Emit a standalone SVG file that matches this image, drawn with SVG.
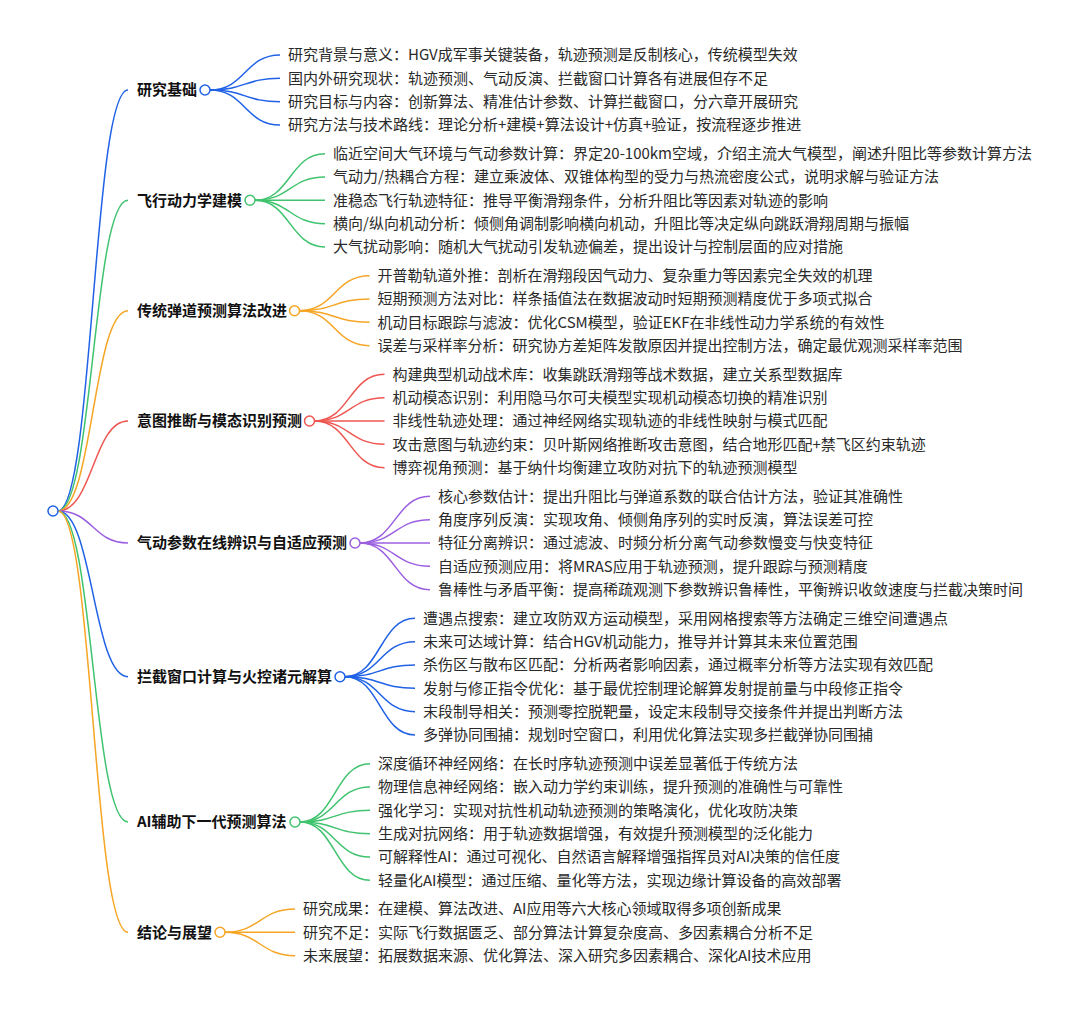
<svg xmlns="http://www.w3.org/2000/svg" width="1080" height="1011" viewBox="0 0 1080 1011">
<style>
.bg{fill:#ffffff}
path{fill:none;stroke-width:1.5}
.c1{stroke:#2062e6}.c2{stroke:#40c36e}.c3{stroke:#f6a524}.c4{stroke:#ee5651}.c5{stroke:#9b5fe0}
circle{fill:#ffffff;stroke-width:1.5}
text{font-family:"Noto Sans CJK SC","Noto Sans",sans-serif;font-size:15px}
.cat{font-weight:bold;fill:#111111}
.leaf{fill:#2a2a2a}
</style>
<rect class="bg" x="0" y="0" width="1080" height="1011"/>
<g id="connectors">
<path class="c1" d="M58,511 C93,511 93,90 128,90"/>
<path class="c2" d="M58,511 C93,511 93,200.3 128,200.3"/>
<path class="c3" d="M58,511 C93,511 93,310.7 128,310.7"/>
<path class="c4" d="M58,511 C93,511 93,421 128,421"/>
<path class="c5" d="M58,511 C93,511 93,543 128,543"/>
<path class="c1" d="M58,511 C93,511 93,676.7 128,676.7"/>
<path class="c2" d="M58,511 C93,511 93,822 128,822"/>
<path class="c3" d="M58,511 C93,511 93,932.3 128,932.3"/>
<path class="c1" d="M210,90 C245,90 245,55 280,55"/>
<path class="c1" d="M210,90 C245,90 245,78.3 280,78.3"/>
<path class="c1" d="M210,90 C245,90 245,101.7 280,101.7"/>
<path class="c1" d="M210,90 C245,90 245,125 280,125"/>
<path class="c2" d="M255,200.3 C290,200.3 290,153.7 325,153.7"/>
<path class="c2" d="M255,200.3 C290,200.3 290,177 325,177"/>
<path class="c2" d="M255,200.3 C290,200.3 290,200.3 325,200.3"/>
<path class="c2" d="M255,200.3 C290,200.3 290,223.7 325,223.7"/>
<path class="c2" d="M255,200.3 C290,200.3 290,247 325,247"/>
<path class="c3" d="M299.5,310.7 C334.5,310.7 334.5,275.7 369.5,275.7"/>
<path class="c3" d="M299.5,310.7 C334.5,310.7 334.5,299 369.5,299"/>
<path class="c3" d="M299.5,310.7 C334.5,310.7 334.5,322.3 369.5,322.3"/>
<path class="c3" d="M299.5,310.7 C334.5,310.7 334.5,345.7 369.5,345.7"/>
<path class="c4" d="M314.5,421 C349.5,421 349.5,374.3 384.5,374.3"/>
<path class="c4" d="M314.5,421 C349.5,421 349.5,397.7 384.5,397.7"/>
<path class="c4" d="M314.5,421 C349.5,421 349.5,421 384.5,421"/>
<path class="c4" d="M314.5,421 C349.5,421 349.5,444.3 384.5,444.3"/>
<path class="c4" d="M314.5,421 C349.5,421 349.5,467.7 384.5,467.7"/>
<path class="c5" d="M360,543 C395,543 395,496.3 430,496.3"/>
<path class="c5" d="M360,543 C395,543 395,519.7 430,519.7"/>
<path class="c5" d="M360,543 C395,543 395,543 430,543"/>
<path class="c5" d="M360,543 C395,543 395,566.3 430,566.3"/>
<path class="c5" d="M360,543 C395,543 395,589.7 430,589.7"/>
<path class="c1" d="M345,676.7 C380,676.7 380,618.3 415,618.3"/>
<path class="c1" d="M345,676.7 C380,676.7 380,641.7 415,641.7"/>
<path class="c1" d="M345,676.7 C380,676.7 380,665 415,665"/>
<path class="c1" d="M345,676.7 C380,676.7 380,688.3 415,688.3"/>
<path class="c1" d="M345,676.7 C380,676.7 380,711.7 415,711.7"/>
<path class="c1" d="M345,676.7 C380,676.7 380,735 415,735"/>
<path class="c2" d="M300,822 C335,822 335,763.7 370,763.7"/>
<path class="c2" d="M300,822 C335,822 335,787 370,787"/>
<path class="c2" d="M300,822 C335,822 335,810.3 370,810.3"/>
<path class="c2" d="M300,822 C335,822 335,833.7 370,833.7"/>
<path class="c2" d="M300,822 C335,822 335,857 370,857"/>
<path class="c2" d="M300,822 C335,822 335,880.3 370,880.3"/>
<path class="c3" d="M225,932.3 C260,932.3 260,909 295,909"/>
<path class="c3" d="M225,932.3 C260,932.3 260,932.3 295,932.3"/>
<path class="c3" d="M225,932.3 C260,932.3 260,955.7 295,955.7"/>
</g>
<g id="root"><circle class="c1" cx="53" cy="511" r="5"/></g>
<g id="n1">
<text class="cat" x="137" y="95.3">研究基础</text>
<circle class="c1" cx="205" cy="90" r="5"/>
<text class="leaf" x="288" y="60.3">研究背景与意义：HGV成军事关键装备，轨迹预测是反制核心，传统模型失效</text>
<text class="leaf" x="288" y="83.6">国内外研究现状：轨迹预测、气动反演、拦截窗口计算各有进展但存不足</text>
<text class="leaf" x="288" y="107">研究目标与内容：创新算法、精准估计参数、计算拦截窗口，分六章开展研究</text>
<text class="leaf" x="288" y="130.3">研究方法与技术路线：理论分析+建模+算法设计+仿真+验证，按流程逐步推进</text>
</g>
<g id="n2">
<text class="cat" x="137" y="205.6">飞行动力学建模</text>
<circle class="c2" cx="250" cy="200.3" r="5"/>
<text class="leaf" x="333" y="159">临近空间大气环境与气动参数计算：界定20-100km空域，介绍主流大气模型，阐述升阻比等参数计算方法</text>
<text class="leaf" x="333" y="182.3">气动力/热耦合方程：建立乘波体、双锥体构型的受力与热流密度公式，说明求解与验证方法</text>
<text class="leaf" x="333" y="205.6">准稳态飞行轨迹特征：推导平衡滑翔条件，分析升阻比等因素对轨迹的影响</text>
<text class="leaf" x="333" y="229">横向/纵向机动分析：倾侧角调制影响横向机动，升阻比等决定纵向跳跃滑翔周期与振幅</text>
<text class="leaf" x="333" y="252.3">大气扰动影响：随机大气扰动引发轨迹偏差，提出设计与控制层面的应对措施</text>
</g>
<g id="n3">
<text class="cat" x="137" y="316">传统弹道预测算法改进</text>
<circle class="c3" cx="294.5" cy="310.7" r="5"/>
<text class="leaf" x="377.5" y="281">开普勒轨道外推：剖析在滑翔段因气动力、复杂重力等因素完全失效的机理</text>
<text class="leaf" x="377.5" y="304.3">短期预测方法对比：样条插值法在数据波动时短期预测精度优于多项式拟合</text>
<text class="leaf" x="377.5" y="327.6">机动目标跟踪与滤波：优化CSM模型，验证EKF在非线性动力学系统的有效性</text>
<text class="leaf" x="377.5" y="351">误差与采样率分析：研究协方差矩阵发散原因并提出控制方法，确定最优观测采样率范围</text>
</g>
<g id="n4">
<text class="cat" x="137" y="426.3">意图推断与模态识别预测</text>
<circle class="c4" cx="309.5" cy="421" r="5"/>
<text class="leaf" x="392.5" y="379.6">构建典型机动战术库：收集跳跃滑翔等战术数据，建立关系型数据库</text>
<text class="leaf" x="392.5" y="403">机动模态识别：利用隐马尔可夫模型实现机动模态切换的精准识别</text>
<text class="leaf" x="392.5" y="426.3">非线性轨迹处理：通过神经网络实现轨迹的非线性映射与模式匹配</text>
<text class="leaf" x="392.5" y="449.6">攻击意图与轨迹约束：贝叶斯网络推断攻击意图，结合地形匹配+禁飞区约束轨迹</text>
<text class="leaf" x="392.5" y="473">博弈视角预测：基于纳什均衡建立攻防对抗下的轨迹预测模型</text>
</g>
<g id="n5">
<text class="cat" x="137" y="548.3">气动参数在线辨识与自适应预测</text>
<circle class="c5" cx="355" cy="543" r="5"/>
<text class="leaf" x="438" y="501.6">核心参数估计：提出升阻比与弹道系数的联合估计方法，验证其准确性</text>
<text class="leaf" x="438" y="525">角度序列反演：实现攻角、倾侧角序列的实时反演，算法误差可控</text>
<text class="leaf" x="438" y="548.3">特征分离辨识：通过滤波、时频分析分离气动参数慢变与快变特征</text>
<text class="leaf" x="438" y="571.6">自适应预测应用：将MRAS应用于轨迹预测，提升跟踪与预测精度</text>
<text class="leaf" x="438" y="595">鲁棒性与矛盾平衡：提高稀疏观测下参数辨识鲁棒性，平衡辨识收敛速度与拦截决策时间</text>
</g>
<g id="n6">
<text class="cat" x="137" y="682">拦截窗口计算与火控诸元解算</text>
<circle class="c1" cx="340" cy="676.7" r="5"/>
<text class="leaf" x="423" y="623.6">遭遇点搜索：建立攻防双方运动模型，采用网格搜索等方法确定三维空间遭遇点</text>
<text class="leaf" x="423" y="647">未来可达域计算：结合HGV机动能力，推导并计算其未来位置范围</text>
<text class="leaf" x="423" y="670.3">杀伤区与散布区匹配：分析两者影响因素，通过概率分析等方法实现有效匹配</text>
<text class="leaf" x="423" y="693.6">发射与修正指令优化：基于最优控制理论解算发射提前量与中段修正指令</text>
<text class="leaf" x="423" y="717">末段制导相关：预测零控脱靶量，设定末段制导交接条件并提出判断方法</text>
<text class="leaf" x="423" y="740.3">多弹协同围捕：规划时空窗口，利用优化算法实现多拦截弹协同围捕</text>
</g>
<g id="n7">
<text class="cat" x="137" y="827.3">AI辅助下一代预测算法</text>
<circle class="c2" cx="295" cy="822" r="5"/>
<text class="leaf" x="378" y="769">深度循环神经网络：在长时序轨迹预测中误差显著低于传统方法</text>
<text class="leaf" x="378" y="792.3">物理信息神经网络：嵌入动力学约束训练，提升预测的准确性与可靠性</text>
<text class="leaf" x="378" y="815.6">强化学习：实现对抗性机动轨迹预测的策略演化，优化攻防决策</text>
<text class="leaf" x="378" y="839">生成对抗网络：用于轨迹数据增强，有效提升预测模型的泛化能力</text>
<text class="leaf" x="378" y="862.3">可解释性AI：通过可视化、自然语言解释增强指挥员对AI决策的信任度</text>
<text class="leaf" x="378" y="885.6">轻量化AI模型：通过压缩、量化等方法，实现边缘计算设备的高效部署</text>
</g>
<g id="n8">
<text class="cat" x="137" y="937.6">结论与展望</text>
<circle class="c3" cx="220" cy="932.3" r="5"/>
<text class="leaf" x="303" y="914.3">研究成果：在建模、算法改进、AI应用等六大核心领域取得多项创新成果</text>
<text class="leaf" x="303" y="937.6">研究不足：实际飞行数据匮乏、部分算法计算复杂度高、多因素耦合分析不足</text>
<text class="leaf" x="303" y="961">未来展望：拓展数据来源、优化算法、深入研究多因素耦合、深化AI技术应用</text>
</g>
</svg>
